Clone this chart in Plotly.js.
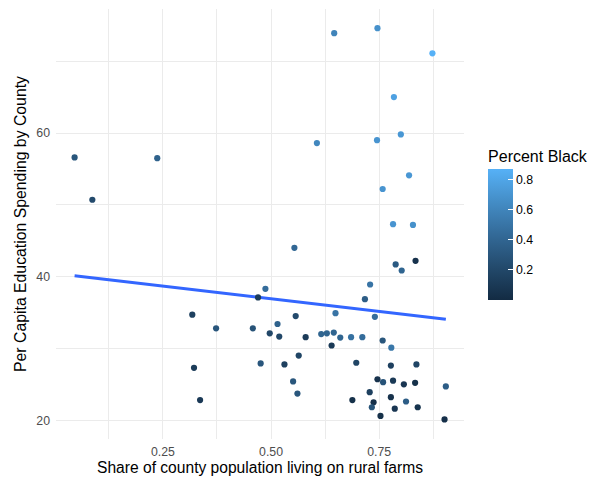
<!DOCTYPE html>
<html>
<head>
<meta charset="utf-8">
<script src="https://cdn.plot.ly/plotly-3.0.1.min.js"></script>
<style>html,body{margin:0;padding:0;background:#fff;}#chart{width:594px;height:483px;}</style>
</head>
<body>
<div id="chart"></div>
<script>
// Share of county population living on rural farms
var farmShare = [0.046,0.087,0.237,0.646,0.746,0.873,0.784,0.800,0.745,0.606,0.819,0.758,
  0.318,0.373,0.322,0.336,0.782,0.828,0.554,0.788,0.834,0.802,0.487,0.470,0.729,0.717,
  0.649,0.740,0.557,0.458,0.515,0.497,0.519,0.580,0.616,0.629,0.645,0.660,0.685,0.711,
  0.640,0.758,0.778,0.564,0.476,0.531,0.697,0.777,0.836,0.551,0.561,0.746,0.759,0.782,
  0.807,0.833,0.904,0.728,0.688,0.737,0.733,0.777,0.786,0.812,0.839,0.753,0.901];
// Per capita education spending
var spending = [56.6,50.7,56.5,73.9,74.6,71.1,65.0,59.8,59.0,58.6,54.1,52.2,
  34.7,32.8,27.3,22.8,47.3,47.2,44.0,41.7,42.2,40.85,38.3,37.1,38.9,36.85,
  34.9,34.4,34.5,32.8,33.4,32.1,31.65,31.56,32.0,32.1,32.2,31.5,31.56,31.56,
  30.4,31.1,30.1,29.0,27.9,27.76,28.0,27.6,27.76,25.4,23.7,25.7,25.3,25.5,
  25.0,25.2,24.7,23.9,22.8,22.5,21.8,23.2,21.6,22.6,21.8,20.6,20.1];
// Percent Black
var pctBlack = [0.30,0.22,0.38,0.60,0.68,0.875,0.78,0.72,0.70,0.62,0.72,0.70,
  0.15,0.30,0.12,0.10,0.70,0.68,0.42,0.33,0.05,0.40,0.45,0.12,0.50,0.35,
  0.50,0.45,0.22,0.28,0.38,0.20,0.20,0.12,0.40,0.40,0.40,0.40,0.48,0.45,
  0.10,0.30,0.52,0.18,0.30,0.15,0.18,0.15,0.18,0.30,0.30,0.05,0.28,0.10,
  0.08,0.04,0.35,0.15,0.04,0.03,0.28,0.05,0.08,0.35,0.06,0.04,0.03];
// gridline positions (labelled major + unlabelled minor)
var xTicks = [0.125, 0.25, 0.375, 0.5, 0.625, 0.75, 0.875];
var xTickText = ['', '0.25', '', '0.50', '', '0.75', ''];
var yTicks = [20, 30, 40, 50, 60, 70];
var yTickText = ['20', '', '40', '', '60', ''];
var cbTicks = [0.2, 0.4, 0.6, 0.8];
var cbTickText = ['0.2', '0.4', '0.6', '0.8'];

// linear fit (lm) from the data
var n = farmShare.length, sx = 0, sy = 0, sxx = 0, sxy = 0;
for (var i = 0; i < n; i++) { sx += farmShare[i]; sy += spending[i]; sxx += farmShare[i]*farmShare[i]; sxy += farmShare[i]*spending[i]; }
var slope = (n*sxy - sx*sy) / (n*sxx - sx*sx);
var intercept = (sy - slope*sx) / n;
var xmin = Math.min.apply(null, farmShare), xmax = Math.max.apply(null, farmShare);
var fitX = [], fitY = [];
for (var k = 0; k <= 40; k++) { var xv = xmin + (xmax - xmin)*k/40; fitX.push(xv); fitY.push(intercept + slope*xv); }

var font = 'Liberation Sans, Arial, Helvetica, sans-serif';
var grid = '#EBEBEB';

var pts = {
  type: 'scatter', mode: 'markers', x: farmShare, y: spending, showlegend: false, hoverinfo: 'skip',
  marker: {
    size: 6.2, color: pctBlack, cmin: 0, cmax: 0.875,
    colorscale: [[0, '#132B43'], [0.25, '#234A6C'], [0.5, '#336A98'], [0.75, '#448DC6'], [1, '#56B1F7']],
    line: {width: 0},
    colorbar: {
      title: {text: 'Percent Black', side: 'top', font: {family: font, size: 16, color: '#000'}},
      tickvals: cbTicks, ticktext: cbTickText,
      ticks: 'inside', ticklen: 5, tickcolor: '#fff', tickwidth: 1,
      tickfont: {family: font, size: 12.3, color: '#000'},
      thickness: 25, thicknessmode: 'pixels', len: 153, lenmode: 'pixels',
      x: 1.059, xanchor: 'left', y: 0.3243, yanchor: 'bottom', xpad: 0, ypad: 0,
      outlinewidth: 0, bgcolor: 'rgba(0,0,0,0)'
    }
  }
};
var fit = {
  type: 'scatter', mode: 'lines', x: fitX, y: fitY, showlegend: false, hoverinfo: 'skip',
  line: {color: '#3366FF', width: 3}
};

var layout = {
  width: 594, height: 483,
  margin: {l: 56, r: 130, t: 9, b: 44.4, pad: 0, autoexpand: false},
  paper_bgcolor: '#fff', plot_bgcolor: '#fff',
  font: {family: font},
  xaxis: {
    range: [0.003, 0.946], tickmode: 'array', tickvals: xTicks, ticktext: xTickText,
    showgrid: true, gridcolor: grid, gridwidth: 1, zeroline: false, showline: false, ticks: '',
    ticklabelstandoff: 4,
    tickfont: {family: font, size: 12.3, color: '#4D4D4D'},
    title: {text: 'Share of county population living on rural farms', font: {family: font, size: 15.6, color: '#000'}, standoff: 3},
    automargin: false
  },
  yaxis: {
    range: [17.38, 77.27], tickmode: 'array', tickvals: yTicks, ticktext: yTickText,
    showgrid: true, gridcolor: grid, gridwidth: 1, zeroline: false, showline: false, ticks: '',
    ticklabelstandoff: 5,
    tickfont: {family: font, size: 12.3, color: '#4D4D4D'},
    title: {text: 'Per Capita Education Spending by County', font: {family: font, size: 15.8, color: '#000'}, standoff: 5},
    automargin: false
  }
};
Plotly.newPlot('chart', [fit, pts], layout, {displayModeBar: false, staticPlot: true});
</script>
</body>
</html>
